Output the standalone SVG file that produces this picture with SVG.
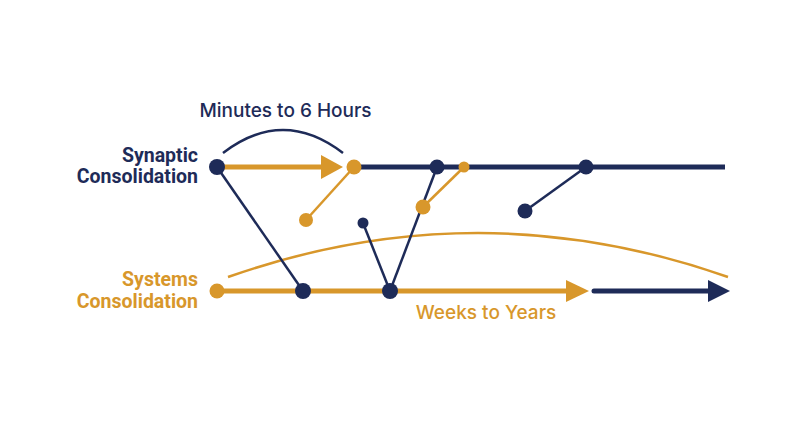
<svg xmlns="http://www.w3.org/2000/svg" width="800" height="447" viewBox="0 0 800 447">
<defs>
<style>
.navy{stroke:#1e2b58;fill:none}
.gold{stroke:#d8972b;fill:none}
.nf{fill:#1e2b58}
.gf{fill:#d8972b}
.lbl{font-family:Roboto,"Liberation Sans",sans-serif;font-size:19.5px;font-weight:700}
.cap{font-family:Inter,Roboto,"Liberation Sans",sans-serif;font-size:19px;font-weight:500}
</style>
</defs>
<rect width="800" height="447" fill="#ffffff"/>
<g id="connectors">
<path class="navy" d="M354 167 H725" stroke-width="5"/>
<path class="gold" d="M217 167 H326" stroke-width="5"/>
<polygon class="gf" points="321,155 343,167 321,179"/>
<path class="navy" d="M223 153 Q283 107 343 153" stroke-width="2.5"/>
<path class="gold" d="M228 277 Q478 189 728 277" stroke-width="2.5"/>
<path class="gold" d="M217 291 H570" stroke-width="5"/>
<polygon class="gf" points="566,280 589,291 566,302"/>
<path class="navy" d="M594 291 H712" stroke-width="5" stroke-linecap="round"/>
<polygon class="nf" points="708,280 730,291 708,302"/>
<path class="navy" d="M217 167 L303 291" stroke-width="2.5"/>
<path class="gold" d="M354 167 L306 220" stroke-width="2.5"/>
<path class="navy" d="M363 223 L390 291" stroke-width="2.5"/>
<path class="navy" d="M437 167 L390 291" stroke-width="2.5"/>
<path class="gold" d="M464 167 L423 207" stroke-width="2.5"/>
<path class="navy" d="M525 211 L586 167" stroke-width="2.5"/>
</g>
<g id="node-syn-start"><circle class="nf" cx="217" cy="167" r="8"/></g>
<g id="node-syn-gold1"><circle class="gf" cx="354" cy="167" r="7.5"/></g>
<g id="node-syn-navy1"><circle class="nf" cx="437" cy="167" r="7.5"/></g>
<g id="node-syn-gold2"><circle class="gf" cx="464" cy="167" r="5.5"/></g>
<g id="node-syn-navy2"><circle class="nf" cx="586" cy="167" r="7.5"/></g>
<g id="node-gold-a"><circle class="gf" cx="306" cy="220" r="7"/></g>
<g id="node-navy-small"><circle class="nf" cx="363" cy="223" r="5.5"/></g>
<g id="node-gold-b"><circle class="gf" cx="423" cy="207" r="7.5"/></g>
<g id="node-navy-c"><circle class="nf" cx="525" cy="211" r="7.5"/></g>
<g id="node-sys-start"><circle class="gf" cx="217" cy="291" r="7.5"/></g>
<g id="node-sys-navy1"><circle class="nf" cx="303" cy="291" r="8"/></g>
<g id="node-sys-navy2"><circle class="nf" cx="390" cy="291" r="8"/></g>
<g id="labels">
<text class="cap nf" x="285.5" y="117" text-anchor="middle">Minutes to 6 Hours</text>
<text class="lbl nf" x="198" y="162" text-anchor="end">Synaptic</text>
<text class="lbl nf" x="198" y="183" text-anchor="end">Consolidation</text>
<text class="lbl gf" x="198" y="286" text-anchor="end">Systems</text>
<text class="lbl gf" x="198" y="308" text-anchor="end">Consolidation</text>
<text class="cap gf" x="486" y="319" text-anchor="middle">Weeks to Years</text>
</g>
</svg>
